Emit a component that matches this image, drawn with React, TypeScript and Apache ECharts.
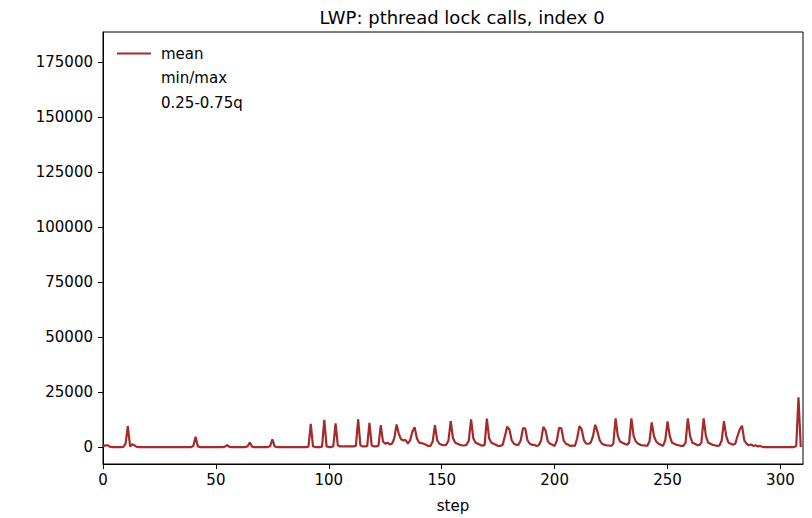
import { useEffect, useRef } from 'react';
import * as echarts from 'echarts';

// mean per step, steps 0..309
const meanValues = [
  200, 800, 800, 200, 0, 0, 0, 0, 0, 100,
  1500, 9500, 300, 1300, 700, 100, 0, 0, 0, 0,
  0, 0, 0, 0, 0, 0, 0, 0, 0, 0,
  0, 0, 0, 0, 0, 0, 0, 0, 0, 0,
  500, 4700, 300, 0, 0, 0, 0, 0, 0, 0,
  0, 0, 0, 0, 200, 900, 100, 0, 0, 0,
  0, 0, 0, 0, 300, 2100, 200, 0, 0, 0,
  0, 0, 0, 0, 400, 3500, 300, 0, 0, 0,
  0, 0, 0, 0, 0, 0, 0, 0, 0, 0,
  0, 200, 10500, 300, 0, 0, 0, 200, 12400, 300,
  0, 0, 300, 10800, 700, 300, 300, 300, 300, 300,
  300, 300, 500, 12600, 800, 300, 300, 400, 11000, 600,
  300, 300, 600, 9900, 2500, 1500, 2000, 1200, 1500, 4000,
  10300, 6000, 3500, 3000, 3200, 1500, 3000, 7000, 9000, 4000,
  2000, 1800, 1500, 1000, 500, 500, 2500, 10000, 3000, 1500,
  1000, 800, 1000, 3000, 11800, 4000, 2000, 1500, 1000, 800,
  700, 1000, 3000, 12600, 4000, 2000, 1500, 1000, 600, 1000,
  12900, 4000, 2000, 1500, 1000, 500, 500, 1000, 5000, 9200,
  8000, 3000, 1500, 1000, 1000, 3000, 8600, 8400, 3000, 1500,
  1000, 1000, 500, 800, 3000, 9200, 7500, 2500, 1500, 1000,
  500, 3000, 8800, 8500, 3000, 1500, 1000, 500, 700, 500,
  4000, 9500, 8000, 3000, 1500, 1500, 2000, 5000, 10100, 7000,
  3000, 1500, 1000, 800, 700, 500, 1500, 13000, 5000, 2500,
  2000, 1500, 1000, 2000, 13000, 5000, 2500, 1500, 1000, 700,
  800, 500, 2500, 11200, 5000, 2500, 1500, 1000, 500, 3000,
  11700, 5000, 2000, 1500, 1000, 800, 500, 500, 2000, 13000,
  5000, 2000, 1500, 1000, 800, 2000, 13000, 5000, 2000, 1500,
  1000, 800, 500, 700, 3000, 11800, 5000, 2000, 1500, 1000,
  1500, 5000, 8000, 9700, 3000, 1500, 800, 1200, 500, 800,
  300, 500, 100, 0, 0, 0, 0, 0, 0, 0,
  0, 0, 0, 0, 0, 0, 0, 500, 22600, 0,
];

const xTicks = [0, 50, 100, 150, 200, 250, 300];
const yTicks = [0, 25000, 50000, 75000, 100000, 125000, 150000, 175000];
const legendNames = ['mean', 'min/max', '0.25-0.75q'];

const LINE_COLOR = '#a52a2a';
const FONT = 'DejaVu Sans';

export default function App() {
  const chartRef = useRef<HTMLDivElement>(null);

  useEffect(() => {
    if (!chartRef.current) return;
    const chart = echarts.init(chartRef.current, undefined, { renderer: 'svg' });

    chart.setOption({
      animation: false,
      textStyle: { fontFamily: FONT, color: '#000' },
      title: {
        text: 'LWP: pthread lock calls, index 0',
        left: 457,
        textAlign: 'center',
        top: 3,
        textStyle: { fontFamily: FONT, fontSize: 18, fontWeight: 'normal', color: '#000' },
      },
      legend: {
        orient: 'vertical',
        left: 116,
        top: 46,
        padding: 0,
        itemWidth: 34,
        itemHeight: 14,
        itemGap: 9.5,
        textStyle: { fontFamily: FONT, fontSize: 15, color: '#000', padding: [0, 0, 0, 5] },
        data: legendNames.map((name, i) =>
          i === 0
            ? { name, itemStyle: { opacity: 0 } }
            : { name, icon: 'none', itemStyle: { opacity: 0 }, lineStyle: { opacity: 0 } }
        ),
      },
      grid: {
        left: 103,
        right: 9,
        top: 32,
        bottom: 54,
        show: true,
        borderColor: '#000',
        borderWidth: 1,
        containLabel: false,
      },
      xAxis: {
        type: 'value',
        min: 0,
        max: 310,
        name: 'step',
        nameLocation: 'middle',
        nameGap: 34,
        nameTextStyle: { fontFamily: FONT, fontSize: 15, color: '#000' },
        axisLine: { show: true, onZero: false, lineStyle: { color: '#000', width: 1 } },
        axisTick: { show: true, length: 5, customValues: xTicks, lineStyle: { color: '#000' } },
        axisLabel: { customValues: xTicks, fontFamily: FONT, fontSize: 15, color: '#000', margin: 8 },
        splitLine: { show: false },
      },
      yAxis: {
        type: 'value',
        min: -7700,
        max: 188600,
        axisLine: { show: true, onZero: false, lineStyle: { color: '#000', width: 1 } },
        axisTick: { show: true, length: 5, customValues: yTicks, lineStyle: { color: '#000' } },
        axisLabel: {
          customValues: yTicks,
          formatter: (v: number) => String(v),
          fontFamily: FONT,
          fontSize: 15,
          color: '#000',
          margin: 10,
        },
        splitLine: { show: false },
      },
      series: [
        {
          name: 'mean',
          type: 'line',
          symbol: 'none',
          data: meanValues.map((v, i) => [i, v]),
          lineStyle: { color: LINE_COLOR, width: 2.2 },
          itemStyle: { color: LINE_COLOR },
        },
        { name: 'min/max', type: 'line', symbol: 'none', data: [] },
        { name: '0.25-0.75q', type: 'line', symbol: 'none', data: [] },
      ],
    });

    return () => chart.dispose();
  }, []);

  return (
    <div
      ref={chartRef}
      style={{ position: 'fixed', left: 0, top: 0, width: 812, height: 518, background: '#fff' }}
    />
  );
}
